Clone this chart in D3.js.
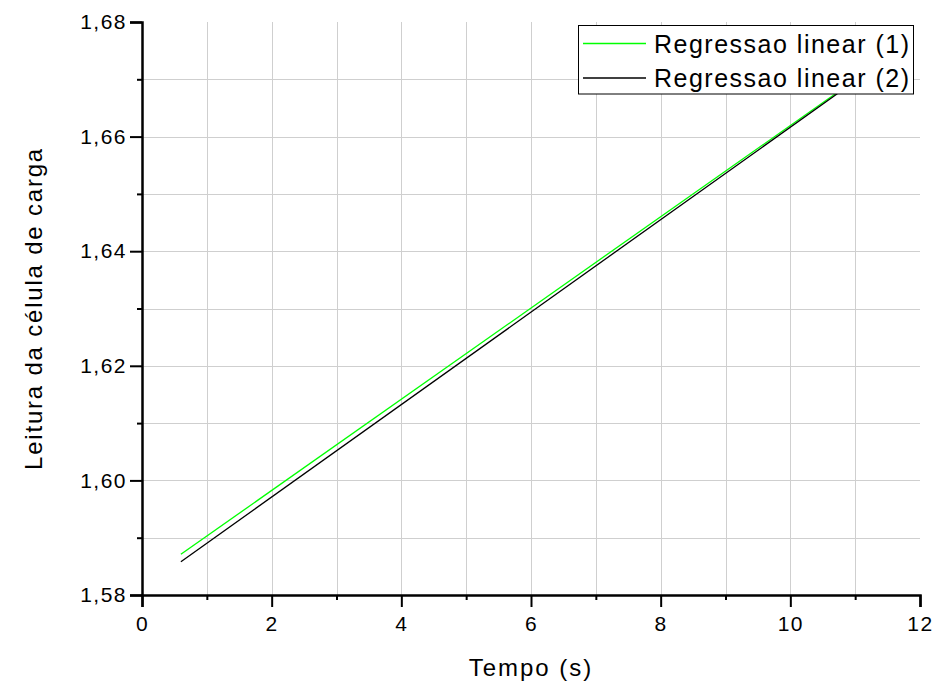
<!DOCTYPE html>
<html>
<head>
<meta charset="utf-8">
<script src="https://cdn.jsdelivr.net/npm/d3@7"></script>
<style>
  html, body { margin: 0; padding: 0; background: #fff; }
  svg { display: block; }
  text { font-family: "Liberation Sans", Arial, sans-serif; fill: #000; }
</style>
</head>
<body>
<svg id="chart" width="936" height="687"></svg>
<script>
// Regression lines: time (s) vs. load-cell reading
const seriesNames = ["Regressao linear (1)", "Regressao linear (2)"];
const seriesColors = ["#00ff00", "#000000"];
const tempo = [0.6, 10.8];
const leitura1 = [1.5871, 1.6683];
const leitura2 = [1.5858, 1.6681];
const xTickValues = [0, 2, 4, 6, 8, 10, 12];
const yTickValues = [1.58, 1.60, 1.62, 1.64, 1.66, 1.68];
const xMinorValues = [1, 3, 5, 7, 9, 11];
const yMinorValues = [1.59, 1.61, 1.63, 1.65, 1.67];
const xTitle = "Tempo (s)";
const yTitle = "Leitura da célula de carga";

const series = [leitura1, leitura2].map((vals, i) => ({
  name: seriesNames[i],
  color: seriesColors[i],
  points: tempo.map((t, j) => ({ x: t, y: vals[j] }))
}));

const svg = d3.select("#chart");
const plotLeft = 142, plotRight = 920, plotTop = 22, plotBottom = 595;

const x = d3.scaleLinear().domain([0, 12]).range([plotLeft, plotRight]);
const y = d3.scaleLinear().domain([1.58, 1.68]).range([plotBottom, plotTop]);

const ptBR = d3.formatLocale({ decimal: ",", thousands: ".", grouping: [3], currency: ["R$", ""] });
const fmtY = ptBR.format(".2f");

// grid
const grid = svg.append("g").attr("stroke", "#cfcfcf").attr("stroke-width", 1);
const gx = xTickValues.concat(xMinorValues).filter(v => v > 0 && v < 12);
grid.selectAll("line.gx").data(gx).join("line").attr("class", "gx")
  .attr("x1", d => Math.round(x(d)) + 0.5).attr("x2", d => Math.round(x(d)) + 0.5)
  .attr("y1", plotTop).attr("y2", plotBottom);
const gy = yTickValues.concat(yMinorValues).filter(v => v > 1.58 && v < 1.68);
grid.selectAll("line.gy").data(gy).join("line").attr("class", "gy")
  .attr("y1", d => Math.round(y(d)) + 0.5).attr("y2", d => Math.round(y(d)) + 0.5)
  .attr("x1", plotLeft).attr("x2", plotRight);

// regression lines
const line = d3.line().x(d => x(d.x)).y(d => y(d.y));
svg.append("g").selectAll("path").data(series).join("path")
  .attr("d", d => line(d.points))
  .attr("fill", "none")
  .attr("stroke", d => d.color)
  .attr("stroke-width", 1.3);

// axes
const xAxis = svg.append("g").attr("transform", `translate(0,${plotBottom})`)
  .call(d3.axisBottom(x).tickValues(xTickValues).tickSize(12).tickPadding(9).tickFormat(d3.format("d")));
const xMinor = svg.append("g").attr("transform", `translate(0,${plotBottom})`)
  .call(d3.axisBottom(x).tickValues(xMinorValues).tickSize(5).tickFormat(""));
const yAxis = svg.append("g").attr("transform", `translate(${plotLeft},0)`)
  .call(d3.axisLeft(y).tickValues(yTickValues).tickSize(12).tickPadding(3).tickFormat(fmtY));
const yMinor = svg.append("g").attr("transform", `translate(${plotLeft},0)`)
  .call(d3.axisLeft(y).tickValues(yMinorValues).tickSize(5).tickFormat(""));

[xAxis, xMinor, yAxis, yMinor].forEach(g => {
  g.select(".domain").attr("stroke", "#000").attr("stroke-width", 2.5);
  g.selectAll(".tick line").attr("stroke", "#000").attr("stroke-width", 2);
  g.selectAll(".tick text")
    .style("font-family", '"Liberation Sans", Arial, sans-serif')
    .style("font-size", "21px")
    .style("letter-spacing", "1.5px")
    .attr("fill", "#000");
});
xMinor.select(".domain").remove();
yMinor.select(".domain").remove();

// axis titles
svg.append("text")
  .attr("x", (plotLeft + plotRight) / 2).attr("y", 676)
  .attr("text-anchor", "middle")
  .style("font-size", "24px").style("letter-spacing", "2px")
  .text(xTitle);
svg.append("text")
  .attr("transform", `translate(42,${(plotTop + plotBottom) / 2}) rotate(-90)`)
  .attr("text-anchor", "middle")
  .style("font-size", "24px").style("letter-spacing", "1.8px")
  .text(yTitle);

// legend
const lg = svg.append("g");
lg.append("rect")
  .attr("x", 578.5).attr("y", 25.5).attr("width", 335).attr("height", 68.5)
  .attr("fill", "#fff").attr("stroke", "#000").attr("stroke-width", 1);
const rows = lg.selectAll("g.row").data(series).join("g").attr("class", "row")
  .attr("transform", (d, i) => `translate(0,${43.5 + i * 34.5})`);
rows.append("line")
  .attr("x1", 583).attr("x2", 646).attr("y1", 0).attr("y2", 0)
  .attr("stroke", d => d.color).attr("stroke-width", 1.3);
rows.append("text")
  .attr("x", 654).attr("y", 9)
  .style("font-size", "25px").style("letter-spacing", "1.5px")
  .text(d => d.name);
</script>
</body>
</html>
